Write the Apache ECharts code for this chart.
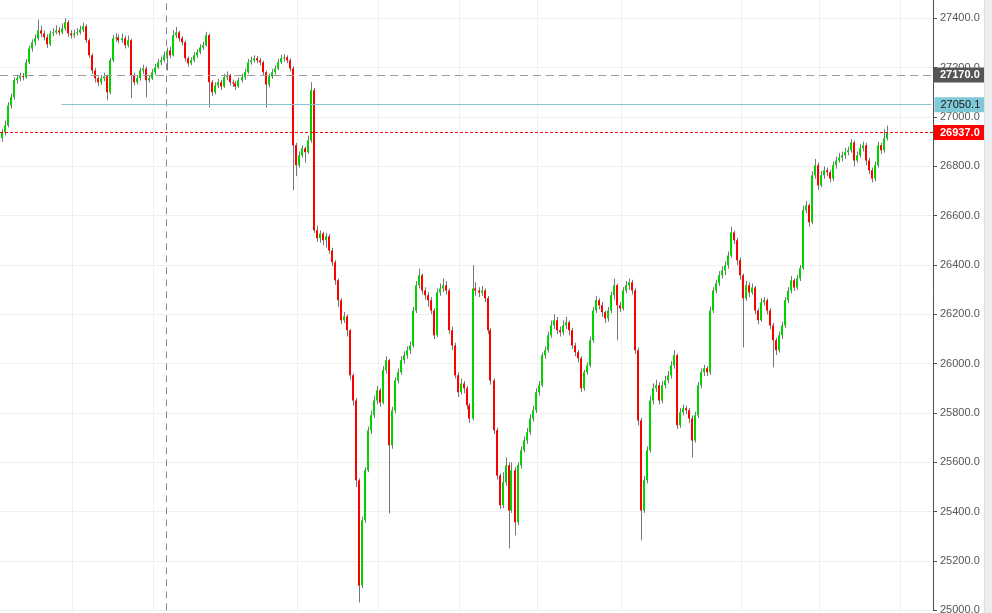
<!DOCTYPE html>
<html>
<head>
<meta charset="utf-8">
<script src="https://cdn.jsdelivr.net/npm/echarts@6/dist/echarts.min.js"></script>
<style>
html,body{margin:0;padding:0;background:#fff;overflow:hidden;width:992px;height:613px;}
#chart{position:absolute;left:0;top:-31px;width:992px;height:660px;}
#strip{position:absolute;left:984px;top:0;width:8px;height:613px;background:#ebedf0;border-left:1px solid #dcdfe3;box-sizing:border-box;}
</style>
</head>
<body>
<div id="chart"></div>
<div id="strip"></div>
<script>
// ---- data (one candle per ~3px) ----
const opens = [
26915,26938,26966,27047,27080,27149,27157,27165,27161,27222,
27278,27303,27319,27351,27339,27323,27295,27339,27343,27351,
27343,27359,27384,27339,27331,27339,27343,27355,27368,27311,
27250,27189,27157,27141,27157,27165,27100,27230,27319,27323,
27311,27319,27291,27311,27169,27141,27157,27189,27197,27149,
27157,27181,27201,27222,27230,27250,27270,27250,27331,27343,
27319,27303,27238,27218,27230,27250,27262,27282,27291,27331,
27141,27100,27128,27141,27124,27161,27169,27141,27137,27124,
27149,27161,27181,27222,27230,27238,27230,27222,27181,27132,
27165,27181,27197,27222,27238,27242,27230,27197,26885,26804,
26845,26873,26857,26905,27108,26541,26508,26528,26500,26516,
26459,26411,26338,26257,26176,26192,26135,25953,25851,25527,
25101,25365,25568,25730,25791,25851,25892,25843,25973,26014,
25669,25811,25932,25965,26014,26034,26054,26074,26216,26318,
26358,26297,26277,26257,26216,26115,26289,26305,26318,26297,
26135,26074,25953,25884,25920,25900,25831,25778,26305,26297,
26289,26297,26265,26135,25932,25730,25547,25426,25519,25588,
25405,25568,25357,25588,25649,25689,25722,25778,25811,25884,
25912,26034,26054,26115,26155,26176,26135,26127,26155,26168,
26135,26074,26046,26022,25900,25965,25993,26095,26216,26257,
26237,26208,26184,26216,26277,26318,26237,26224,26297,26318,
26330,26297,26054,25770,25405,25527,25649,25851,25900,25912,
25851,25912,25932,25953,25993,26034,25750,25803,25819,25811,
25778,25689,25791,25912,25965,25981,25965,26216,26297,26326,
26358,26378,26399,26439,26532,26500,26419,26358,26265,26318,
26289,26309,26216,26176,26249,26257,26216,26155,26095,26054,
26115,26155,26257,26297,26338,26309,26346,26387,26622,26642,
26573,26764,26804,26723,26764,26784,26776,26751,26804,26824,
26836,26845,26857,26865,26897,26824,26845,26873,26885,26824,
26784,26751,26804,26885,26865,26914
];
const closes = [
26938,26966,27047,27080,27149,27157,27165,27161,27222,27278,
27303,27319,27351,27339,27323,27295,27339,27343,27351,27343,
27359,27384,27339,27331,27339,27343,27355,27368,27311,27250,
27189,27157,27141,27157,27165,27100,27230,27319,27323,27311,
27319,27291,27311,27169,27141,27157,27189,27197,27149,27157,
27181,27201,27222,27230,27250,27270,27250,27331,27343,27319,
27303,27238,27218,27230,27250,27262,27282,27291,27331,27141,
27100,27128,27141,27124,27161,27169,27141,27137,27124,27149,
27161,27181,27222,27230,27238,27230,27222,27181,27132,27165,
27181,27197,27222,27238,27242,27230,27197,26885,26804,26845,
26873,26857,26905,27108,26541,26508,26528,26500,26516,26459,
26411,26338,26257,26176,26192,26135,25953,25851,25527,25101,
25365,25568,25730,25791,25851,25892,25843,25973,26014,25669,
25811,25932,25965,26014,26034,26054,26074,26216,26318,26358,
26297,26277,26257,26216,26115,26289,26305,26318,26297,26135,
26074,25953,25884,25920,25900,25831,25778,26305,26297,26289,
26297,26265,26135,25932,25730,25547,25426,25519,25588,25405,
25568,25357,25588,25649,25689,25722,25778,25811,25884,25912,
26034,26054,26115,26155,26176,26135,26127,26155,26168,26135,
26074,26046,26022,25900,25965,25993,26095,26216,26257,26237,
26208,26184,26216,26277,26318,26237,26224,26297,26318,26330,
26297,26054,25770,25405,25527,25649,25851,25900,25912,25851,
25912,25932,25953,25993,26034,25750,25803,25819,25811,25778,
25689,25791,25912,25965,25981,25965,26216,26297,26326,26358,
26378,26399,26439,26532,26500,26419,26358,26265,26318,26289,
26309,26216,26176,26249,26257,26216,26155,26095,26054,26115,
26155,26257,26297,26338,26309,26346,26387,26622,26642,26573,
26764,26804,26723,26764,26784,26776,26751,26804,26824,26836,
26845,26857,26865,26897,26824,26845,26873,26885,26824,26784,
26751,26804,26885,26865,26914,26937
];
const lows = [
26900,26925,26958,27035,27070,27135,27145,27148,27155,27215,
27265,27290,27310,27325,27310,27280,27288,27328,27335,27330,
27335,27350,27325,27318,27320,27330,27335,27345,27300,27240,
27175,27140,27125,27130,27145,27068,27092,27222,27305,27298,
27300,27278,27282,27076,27128,27132,27148,27175,27080,27140,
27150,27170,27195,27210,27222,27189,27238,27245,27320,27305,
27290,27225,27205,27210,27222,27240,27255,27272,27285,27039,
27085,27092,27118,27110,27118,27150,27128,27122,27110,27118,
27140,27150,27175,27212,27220,27218,27210,27170,27039,27120,
27155,27172,27190,27215,27225,27218,27185,26703,26760,26795,
26835,26815,26850,26895,26530,26495,26490,26480,26470,26445,
26395,26320,26230,26160,26165,26110,25935,25830,25500,25032,
25090,25355,25560,25715,25780,25835,25825,25835,25960,25393,
25655,25800,25920,25955,26000,26020,26040,26065,26205,26305,
26280,26260,26230,26200,26100,26108,26275,26290,26280,26120,
26055,25940,25865,25875,25880,25815,25760,25770,26275,26270,
26275,26250,26120,25915,25715,25530,25410,25415,25505,25251,
25395,25304,25345,25575,25640,25675,25710,25765,25800,25870,
25905,26020,26045,26105,26140,26120,26110,26115,26140,26115,
26060,26030,26005,25885,25890,25955,25985,26085,26205,26220,
26190,26165,26170,26205,26260,26095,26210,26215,26285,26300,
26280,26040,25750,25284,25395,25515,25640,25835,25885,25835,
25840,25900,25920,25940,25980,25735,25740,25790,25795,25760,
25620,25680,25780,25900,25950,25950,25955,26205,26285,26315,
26345,26360,26385,26430,26485,26400,26340,26066,26255,26270,
26280,26200,26160,26170,26235,26200,26140,25985,26035,26045,
26100,26145,26245,26285,26295,26300,26335,26380,26610,26555,
26565,26750,26705,26715,26750,26760,26735,26740,26790,26815,
26820,26830,26845,26855,26800,26815,26835,26860,26805,26770,
26735,26740,26795,26850,26855,26905
];
const highs = [
26952,26985,27060,27095,27160,27172,27180,27178,27235,27290,
27315,27335,27395,27370,27350,27335,27350,27360,27372,27365,
27380,27400,27392,27352,27355,27360,27370,27382,27375,27318,
27258,27198,27165,27170,27180,27172,27240,27332,27340,27335,
27338,27330,27330,27318,27180,27170,27200,27212,27205,27170,
27195,27215,27235,27245,27265,27282,27285,27351,27365,27350,
27328,27310,27245,27242,27262,27275,27295,27305,27345,27338,
27150,27140,27155,27150,27175,27185,27175,27152,27145,27160,
27175,27195,27235,27245,27250,27248,27240,27228,27188,27175,
27195,27210,27235,27252,27255,27250,27238,27205,26895,26860,
26885,26880,26925,27141,27118,26560,26540,26535,26530,26525,
26470,26420,26345,26265,26210,26200,26140,25960,25860,25535,
25380,25580,25745,25810,25870,25910,25900,25990,26030,26020,
25825,25945,25980,26030,26050,26070,26090,26230,26335,26385,
26365,26310,26290,26270,26225,26305,26325,26345,26335,26305,
26150,26085,25965,25940,25930,25910,25840,26399,26330,26310,
26315,26305,26275,26145,25940,25740,25555,25560,25620,25600,
25600,25580,25600,25665,25705,25740,25795,25830,25900,25930,
26045,26070,26130,26175,26200,26190,26150,26175,26190,26175,
26145,26085,26055,26030,25975,26005,26110,26230,26275,26265,
26250,26215,26230,26290,26345,26325,26250,26310,26335,26345,
26340,26305,26065,25780,25545,25665,25870,25920,25935,25925,
25930,25950,25970,26010,26054,26040,25820,25835,25830,25820,
25790,25805,25925,25980,25995,25990,26230,26310,26340,26375,
26395,26415,26455,26555,26540,26510,26430,26365,26335,26330,
26325,26315,26225,26265,26270,26265,26225,26165,26105,26130,
26170,26270,26310,26355,26345,26360,26400,26640,26660,26650,
26780,26830,26815,26780,26800,26795,26785,26820,26840,26855,
26860,26875,26880,26910,26905,26860,26890,26900,26895,26835,
26795,26820,26900,26895,26950,26965
];
// axis ticks
const yTicks = {min: 25000, max: 27600, step: 200};
// horizontal reference levels
const lastPrice = 26937.0;
const dashedLevel = 27170.0;
const drawnLevel = 27050.1;
const drawnLevelStartIndex = 20;
const crosshairIndex = 55;
// indices where vertical (session) grid lines are drawn
const sessionBreaks = [24, 51, 99, 126, 153, 179, 207, 247, 273, 300];
const emptySlots = 15;

// ---- build ----
const total = closes.length + emptySlots;
const categories = [];
for (let i = 0; i < total; i++) categories.push(String(i));
const rows = closes.map((c, i) => [i, opens[i], c, lows[i], highs[i]]);

const FONT = 'Arial, "Liberation Sans", sans-serif';
const chart = echarts.init(document.getElementById('chart'), null, {renderer: 'canvas'});
chart.setOption({
  animation: false,
  backgroundColor: '#ffffff',
  grid: {left: 0, right: 59, top: 0, bottom: 18.67, containLabel: false},
  xAxis: {
    type: 'category',
    data: categories,
    boundaryGap: true,
    axisLine: {show: false},
    axisTick: {show: false},
    axisLabel: {show: false},
    splitLine: {
      show: true,
      interval: function (idx) { return sessionBreaks.indexOf(idx) >= 0; },
      lineStyle: {color: '#efefef', width: 1}
    }
  },
  yAxis: {
    type: 'value',
    position: 'right',
    min: yTicks.min,
    max: yTicks.max,
    interval: yTicks.step,
    axisLine: {show: true, lineStyle: {color: '#4d4d4d', width: 1}},
    axisTick: {show: true, length: 4, lineStyle: {color: '#4d4d4d'}},
    axisLabel: {
      show: true, margin: 7, color: '#555', fontSize: 11, fontFamily: FONT,
      showMaxLabel: false,
      formatter: function (v) { return v.toFixed(1); }
    },
    splitLine: {show: true, lineStyle: {color: '#efefef', width: 1}}
  },
  series: [
    {
      type: 'line',
      data: closes,
      symbol: 'none',
      silent: true,
      z: 1,
      lineStyle: {opacity: 0, width: 0},
      markLine: {
        silent: true,
        symbol: 'none',
        animation: false,
        precision: 1,
        data: [
          {
            xAxis: crosshairIndex,
            lineStyle: {color: '#8a8a8a', type: [7, 5], width: 1},
            label: {show: false}
          },
          {
            yAxis: dashedLevel,
            lineStyle: {color: '#9a9a9a', type: [8, 5], width: 1},
            label: {
              show: true, position: 'end', distance: 1,
              formatter: dashedLevel.toFixed(1),
              backgroundColor: '#555555', color: '#ffffff', fontWeight: 'bold',
              fontSize: 11, fontFamily: FONT, padding: [2, 5, 2, 6], lineHeight: 11
            }
          },
          [
            {
              coord: [drawnLevelStartIndex, drawnLevel],
              lineStyle: {color: '#86c5cf', type: 'solid', width: 1},
              label: {
                show: true, position: 'end', distance: 3,
                formatter: drawnLevel.toFixed(1),
                backgroundColor: '#7fc9d9', color: '#1a1a1a',
                fontSize: 11, fontFamily: FONT, padding: [2, 5, 2, 6], lineHeight: 11
              }
            },
            {coord: [total - 1, drawnLevel]}
          ],
          {
            yAxis: lastPrice,
            lineStyle: {color: '#ff0000', type: [3, 2], width: 1, opacity: 1},
            label: {
              show: true, position: 'end', distance: 1,
              formatter: lastPrice.toFixed(1),
              backgroundColor: '#ff0000', color: '#ffffff', fontWeight: 'bold',
              fontSize: 11, fontFamily: FONT, padding: [2, 5, 2, 6], lineHeight: 11
            }
          }
        ]
      }
    },
    {
      type: 'custom',
      z: 3,
      clip: true,
      data: rows,
      encode: {x: 0, y: [1, 2, 3, 4]},
      renderItem: function (params, api) {
        const idx = api.value(0);
        const o = api.value(1), c = api.value(2), l = api.value(3), h = api.value(4);
        const pO = api.coord([idx, o]);
        const pC = api.coord([idx, c]);
        const pL = api.coord([idx, l]);
        const pH = api.coord([idx, h]);
        const n = Math.round(pO[0]);
        const top = Math.min(pO[1], pC[1]);
        const bot = Math.max(pO[1], pC[1]);
        const up = c >= o;
        return {
          type: 'group',
          children: [
            {type: 'line', shape: {x1: n + 0.5, y1: pH[1], x2: n + 0.5, y2: pL[1]},
             style: {stroke: '#777777', lineWidth: 1}},
            {type: 'rect', shape: {x: n - 1, y: top, width: 2, height: Math.max(bot - top, 1)},
             style: {fill: up ? '#00d400' : '#ff0000'}}
          ]
        };
      }
    }
  ]
});
</script>
</body>
</html>
